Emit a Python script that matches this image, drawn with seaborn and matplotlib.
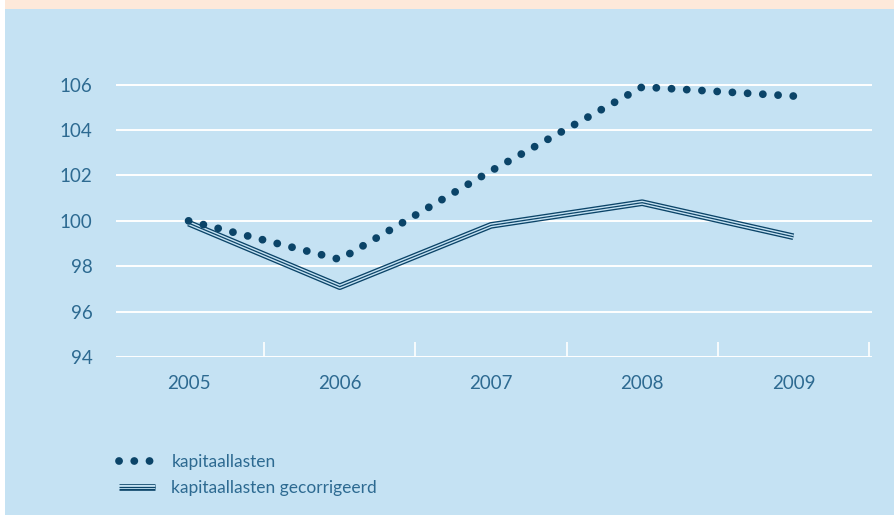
import matplotlib
matplotlib.use("Agg")
import matplotlib.pyplot as plt
import seaborn as sns
import pandas as pd
from matplotlib.lines import Line2D
from matplotlib.patches import Rectangle
from matplotlib.legend_handler import HandlerTuple

# data
years = ["2005", "2006", "2007", "2008", "2009"]
kapitaallasten = [100.0, 98.3, 102.2, 105.9, 105.5]
gecorrigeerd = [99.9, 97.1, 99.8, 100.8, 99.3]
y_ticks = [94, 96, 98, 100, 102, 104, 106]

navy = "#0B4468"
text_col = "#2D6A91"
bg = "#C5E2F3"
peach = "#FDE9DA"

df = pd.DataFrame({"jaar": years, "kap": kapitaallasten, "gec": gecorrigeerd})

sns.set_theme(style="white")
plt.rcParams["font.family"] = ["Lato", "DejaVu Sans"]

fig = plt.figure(figsize=(8.94, 5.15), dpi=100)
fig.patch.set_facecolor("white")
fig.add_artist(Rectangle((5 / 894, 0), 1, 1 - 9 / 515, transform=fig.transFigure,
                         facecolor=bg, edgecolor="none", zorder=0))
fig.add_artist(Rectangle((5 / 894, 1 - 9 / 515), 1, 9 / 515, transform=fig.transFigure,
                         facecolor=peach, edgecolor="none", zorder=0))

ax = fig.add_axes([116 / 894, 1 - 357 / 515, (872 - 116) / 894, (357 - 62) / 515])
ax.set_facecolor("none")

# corrected series: triple line
sns.lineplot(data=df, x="jaar", y="gec", ax=ax, color=navy, lw=4.8, sort=False, zorder=3,
             solid_capstyle="butt")
sns.lineplot(data=df, x="jaar", y="gec", ax=ax, color=bg, lw=2.9, sort=False, zorder=4,
             solid_capstyle="butt")
sns.lineplot(data=df, x="jaar", y="gec", ax=ax, color=navy, lw=0.9, sort=False, zorder=5,
             solid_capstyle="butt")

# dotted series
sns.lineplot(data=df, x="jaar", y="kap", ax=ax, color=navy, lw=5.6, sort=False, zorder=6,
             linestyle=(0, (0.01, 1.95)), dash_capstyle="round")

ax.set_xlim(-0.48, 4.52)
ax.set_ylim(94, 107)
ax.set_yticks(y_ticks)
ax.set_yticklabels([str(v) for v in y_ticks])
for v in y_ticks:
    ax.axhline(v, color="white", lw=1.4, zorder=1)

ax.set_xticks([0.5, 1.5, 2.5, 3.5, 4.5])
ax.set_xticklabels([])
ax.set_xticks(range(len(years)), minor=True)
ax.set_xticklabels(years, minor=True)
ax.tick_params(axis="x", which="major", bottom=True, direction="in", length=11,
               width=1.2, color="white")
ax.tick_params(axis="x", which="minor", bottom=True, length=0, pad=13,
               labelsize=13.5, labelcolor=text_col)
ax.tick_params(axis="y", length=0, pad=17, labelsize=13.5, labelcolor=text_col)
ax.set_xlabel("")
ax.set_ylabel("")
for s in ax.spines.values():
    s.set_visible(False)

h_dots = Line2D([], [], color=navy, lw=5.6, linestyle=(0, (0.01, 1.95)), dash_capstyle="round")
h_triple = (Line2D([], [], color=navy, lw=4.8, solid_capstyle="butt"),
            Line2D([], [], color=bg, lw=2.9, solid_capstyle="butt"),
            Line2D([], [], color=navy, lw=0.9, solid_capstyle="butt"))
leg = ax.legend([h_dots, h_triple], ["kapitaallasten", "kapitaallasten gecorrigeerd"],
                handler_map={tuple: HandlerTuple(ndivide=1, pad=0)},
                loc="upper left", bbox_to_anchor=(119 / 894, 1 - 454 / 515),
                bbox_transform=fig.transFigure, frameon=False, fontsize=12.5,
                handlelength=2.05, handletextpad=0.97, labelspacing=0.58, borderaxespad=0,
                borderpad=0)
for t in leg.get_texts():
    t.set_color(text_col)

fig.savefig("out.png", dpi=100, facecolor=fig.get_facecolor())
